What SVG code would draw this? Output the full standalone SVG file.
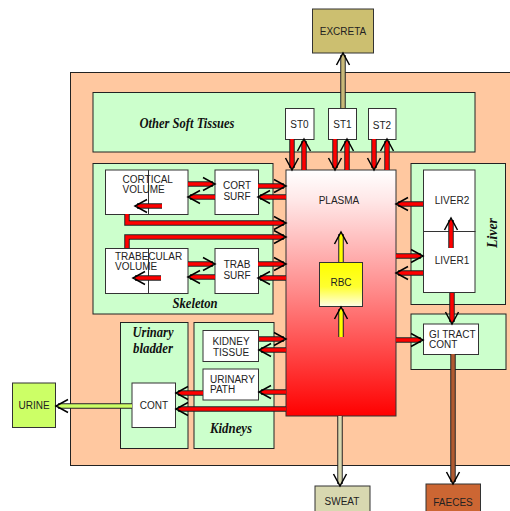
<svg xmlns="http://www.w3.org/2000/svg" width="510" height="511" viewBox="0 0 510 511">
<defs>
<style>
.frame{fill:#FFC8A0;stroke:#222;stroke-width:1}
.grp{fill:#CCFFCC;stroke:#222;stroke-width:1}
.box{fill:#fff;stroke:#333;stroke-width:1}
.lbl{font-family:"Liberation Sans",Arial,sans-serif;font-size:10px;fill:#222}
.mid{text-anchor:middle}
.ttl{font-family:"Liberation Serif","Times New Roman",serif;font-weight:bold;font-style:italic;font-size:14px;fill:#111;text-anchor:middle}
.ol path{fill:none;stroke:#222;stroke-width:5.5}
.rd path{fill:none;stroke:#FF0000;stroke-width:3.5;marker-end:url(#h)}
.ye{fill:none;stroke:#FFFF00;stroke-width:3.5;marker-end:url(#h)}
.tn{fill:none;stroke:#C8B878;stroke-width:3.5;marker-end:url(#h)}
.be{fill:none;stroke:#D8D8B0;stroke-width:3.5;marker-end:url(#h)}
.br{fill:none;stroke:#B05A30;stroke-width:3.5;marker-end:url(#h)}
.gr{fill:none;stroke:#CCFF66;stroke-width:3.5;marker-end:url(#h)}
</style>
<marker id="h" markerUnits="userSpaceOnUse" viewBox="-15 -8 18 16" markerWidth="18" markerHeight="16" refX="-2" refY="0" orient="auto">
<path d="M-12,-6.5 L0,0 L-12,6.5" fill="none" stroke="#000" stroke-width="1.5"/>
</marker>
<linearGradient id="pg" x1="0" y1="0" x2="0" y2="1">
<stop offset="0" stop-color="#FFFFFF"/>
<stop offset="0.12" stop-color="#FFE8E8"/>
<stop offset="0.5" stop-color="#FF8888"/>
<stop offset="1" stop-color="#FF0000"/>
</linearGradient>
<linearGradient id="yg" x1="0" y1="0" x2="0" y2="1">
<stop offset="0" stop-color="#FFFF00"/>
<stop offset="0.55" stop-color="#FFFF30"/>
<stop offset="1" stop-color="#FFFFE8"/>
</linearGradient>
</defs>

<rect class="frame" x="70.5" y="72.5" width="450" height="393"/>

<g id="other-soft-tissues">
<rect class="grp" x="93" y="92.5" width="382" height="59.5"/>
<text class="ttl" x="187" y="127.5" textLength="95" lengthAdjust="spacingAndGlyphs">Other Soft Tissues</text>
</g>
<g id="skeleton">
<rect class="grp" x="93" y="163.5" width="180" height="150.5"/>
<text class="ttl" x="195" y="308" textLength="45" lengthAdjust="spacingAndGlyphs">Skeleton</text>
</g>
<g id="liver">
<rect class="grp" x="411" y="163.5" width="94.5" height="141"/>
<text class="ttl" x="497" y="233" transform="rotate(-90 497 233)" textLength="30" lengthAdjust="spacingAndGlyphs">Liver</text>
</g>
<g id="gi-tract">
<rect class="grp" x="411" y="314" width="95" height="55.5"/>
</g>
<g id="urinary-bladder">
<rect class="grp" x="120.5" y="322.5" width="67.5" height="126"/>
<text class="ttl" x="153" y="337" textLength="41" lengthAdjust="spacingAndGlyphs">Urinary</text>
<text class="ttl" x="153" y="353" textLength="40" lengthAdjust="spacingAndGlyphs">bladder</text>
</g>
<g id="kidneys">
<rect class="grp" x="194" y="322.5" width="80" height="126"/>
<text class="ttl" x="231" y="433" textLength="42" lengthAdjust="spacingAndGlyphs">Kidneys</text>
</g>

<g id="excreta">
<rect x="312.5" y="9" width="61" height="44" fill="#CCBF70" stroke="#333"/>
<text class="lbl mid" x="343" y="34.5">EXCRETA</text>
</g>
<g id="st0">
<rect class="box" x="285.5" y="108.5" width="28.5" height="31"/>
<text class="lbl mid" x="299.5" y="127.5">ST0</text>
</g>
<g id="st1">
<rect class="box" x="328.5" y="108.5" width="28" height="31"/>
<text class="lbl mid" x="342.5" y="127.5">ST1</text>
</g>
<g id="st2">
<rect class="box" x="368.5" y="108.5" width="27.5" height="31"/>
<text class="lbl mid" x="382" y="128.5">ST2</text>
</g>
<g id="plasma">
<rect x="286" y="170" width="110" height="246" fill="url(#pg)" stroke="#333"/>
<text class="lbl mid" x="339" y="204">PLASMA</text>
</g>
<g id="rbc">
<rect x="319.5" y="262.5" width="43" height="44" fill="url(#yg)" stroke="#333"/>
<text class="lbl mid" x="341" y="285.5">RBC</text>
</g>
<g id="cortical-volume">
<rect class="box" x="105.5" y="170" width="82.5" height="44.5"/>
<line x1="148.5" y1="170" x2="148.5" y2="214.5" stroke="#333"/>
<text class="lbl" x="122.5" y="182.5">CORTICAL</text>
<text class="lbl" x="122.5" y="193">VOLUME</text>
</g>
<g id="cort-surf">
<rect class="box" x="215" y="170" width="43.5" height="44.5"/>
<text class="lbl mid" x="237" y="188.5">CORT</text>
<text class="lbl mid" x="237" y="199.5">SURF</text>
</g>
<g id="trabecular-volume">
<rect class="box" x="105.5" y="248.5" width="82.5" height="45"/>
<line x1="148.5" y1="248.5" x2="148.5" y2="293.5" stroke="#333"/>
<text class="lbl" x="115" y="259.5">TRABECULAR</text>
<text class="lbl" x="115" y="270">VOLUME</text>
</g>
<g id="trab-surf">
<rect class="box" x="215" y="248.5" width="43.5" height="45"/>
<text class="lbl mid" x="237" y="267.5">TRAB</text>
<text class="lbl mid" x="237" y="279">SURF</text>
</g>
<g id="liver2">
<rect class="box" x="423.5" y="170" width="51.5" height="61.5"/>
<text class="lbl mid" x="452" y="204">LIVER2</text>
</g>
<g id="liver1">
<rect class="box" x="423.5" y="231.5" width="51.5" height="61"/>
<text class="lbl mid" x="452" y="264">LIVER1</text>
</g>
<g id="gi-tract-cont">
<rect class="box" x="423.5" y="324" width="55" height="30.5"/>
<text class="lbl" x="429" y="337.5">GI TRACT</text>
<text class="lbl" x="429" y="348">CONT</text>
</g>
<g id="kidney-tissue">
<rect class="box" x="203" y="330.5" width="55.5" height="31"/>
<text class="lbl mid" x="231" y="345">KIDNEY</text>
<text class="lbl mid" x="231" y="355.5">TISSUE</text>
</g>
<g id="urinary-path">
<rect class="box" x="203" y="369" width="55.5" height="31"/>
<text class="lbl" x="210" y="382.5">URINARY</text>
<text class="lbl" x="210" y="393">PATH</text>
</g>
<g id="cont">
<rect class="box" x="132" y="383" width="43.5" height="44.5"/>
<text class="lbl mid" x="154" y="408.5">CONT</text>
</g>
<g id="urine">
<rect x="12.5" y="383" width="43" height="44.5" fill="#CCFF66" stroke="#333"/>
<text class="lbl mid" x="34" y="408.5">URINE</text>
</g>
<g id="sweat">
<rect x="315" y="486" width="55" height="30" fill="#D8D8B0" stroke="#333"/>
<text class="lbl mid" x="342" y="504.5">SWEAT</text>
</g>
<g id="faeces">
<rect x="426" y="484" width="54.5" height="32" fill="#CC6633" stroke="#333"/>
<text class="lbl mid" x="453" y="505.5">FAECES</text>
</g>

<g id="connectors">
<g class="ol">
<path d="M292,139 V168"/><path d="M304,170 V141"/>
<path d="M335,139 V168"/><path d="M347,170 V141"/>
<path d="M374,139 V168"/><path d="M387,170 V141"/>
<path d="M188,184 H213"/><path d="M215,197 H190"/>
<path d="M258,186 H284"/><path d="M286,197 H260"/>
<path d="M162,206 H137"/>
<path d="M127,214 V223 H284"/><path d="M127,248 V237 H284"/>
<path d="M188,264 H213"/><path d="M215,277 H190"/>
<path d="M258,264 H284"/><path d="M286,278 H260"/>
<path d="M161,278 H135"/>
<path d="M423,204 H398"/><path d="M396,256 H421"/><path d="M423,273 H398"/>
<path d="M451,248 V220"/><path d="M452,293 V322"/>
<path d="M396,340 H421"/>
<path d="M259,339 H284"/><path d="M286,350 H261"/>
<path d="M286,392 H261"/><path d="M203,393 H178"/><path d="M286,409 H178"/>
<path d="M341,262 V234"/><path d="M341,337 V309"/>
<path d="M343,108 V55"/><path d="M340,416 V484"/>
<path d="M453,354 V482"/><path d="M132,406 H58"/>
</g>
<g class="rd">
<path d="M292,139 V168"/><path d="M304,170 V141"/>
<path d="M335,139 V168"/><path d="M347,170 V141"/>
<path d="M374,139 V168"/><path d="M387,170 V141"/>
<path d="M188,184 H213"/><path d="M215,197 H190"/>
<path d="M258,186 H284"/><path d="M286,197 H260"/>
<path d="M162,206 H137"/>
<path d="M127,214 V223 H284"/><path d="M127,248 V237 H284"/>
<path d="M188,264 H213"/><path d="M215,277 H190"/>
<path d="M258,264 H284"/><path d="M286,278 H260"/>
<path d="M161,278 H135"/>
<path d="M423,204 H398"/><path d="M396,256 H421"/><path d="M423,273 H398"/>
<path d="M451,248 V220"/><path d="M452,293 V322"/>
<path d="M396,340 H421"/>
<path d="M259,339 H284"/><path d="M286,350 H261"/>
<path d="M286,392 H261"/><path d="M203,393 H178"/><path d="M286,409 H178"/>
</g>
<path class="ye" d="M341,262 V234"/><path class="ye" d="M341,337 V309"/>
<path class="tn" d="M343,108 V55"/>
<path class="be" d="M340,416 V484"/>
<path class="br" d="M453,354 V482"/>
<path class="gr" d="M132,406 H58"/>
</g>
</svg>
